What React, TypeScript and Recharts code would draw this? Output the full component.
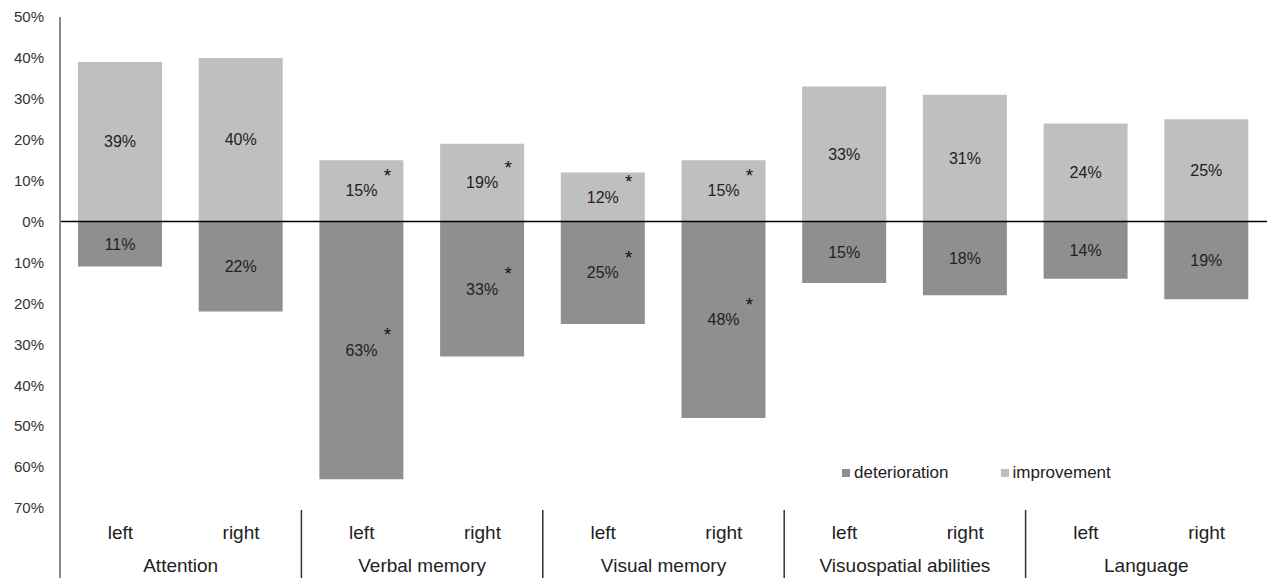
import React from 'react';
import { BarChart, Bar, XAxis, YAxis, ReferenceLine, Legend, LabelList } from 'recharts';

const sides = ['left', 'right', 'left', 'right', 'left', 'right', 'left', 'right', 'left', 'right'];
const domains = ['Attention', 'Verbal memory', 'Visual memory', 'Visuospatial abilities', 'Language'];
const improvement = [39, 40, 15, 19, 12, 15, 33, 31, 24, 25];
const deterioration = [11, 22, 63, 33, 25, 48, 15, 18, 14, 19];
const improvementSig = [false, false, true, true, true, true, false, false, false, false];
const deteriorationSig = [false, false, true, true, true, true, false, false, false, false];
const yTicks = [50, 40, 30, 20, 10, 0, -10, -20, -30, -40, -50, -60, -70];

const data = sides.map((side, i) => ({
    name: `${domains[Math.floor(i / 2)]} ${side}`,
    side,
    improvement: improvement[i],
    deterioration: -deterioration[i],
}));

const FONT = '"Liberation Sans", Arial, Helvetica, sans-serif';
const COLORS = {
    improvement: '#bfbfbf',
    deterioration: '#8f8f8f',
};

const makeLabel = (sig: boolean[]) => (props: any) => {
    const { x, y, width, height, value, index } = props;
    const cx = x + width / 2;
    const cy = y + height / 2;
    return (
        <g>
            <text x={cx} y={cy} textAnchor="middle" dominantBaseline="central" fontSize={16} fill="#222" fontFamily={FONT}>
                {`${Math.abs(value)}%`}
            </text>
            {sig[index] && (
                <text x={cx + 26} y={cy - 9} textAnchor="middle" fontSize={19} fill="#111" fontFamily={FONT}>
                    *
                </text>
            )}
        </g>
    );
};

const CategoryTick = (props: any) => {
    const { x, y, payload } = props;
    const index = payload.index;
    const half = payload.offset || 60.35;
    return (
        <g>
            <text x={x} y={y + 23} textAnchor="middle" fontSize={19} fill="#222" fontFamily={FONT}>
                {sides[index]}
            </text>
            {index % 2 === 0 && (
                <>
                    <line
                        x1={x - half}
                        x2={x - half}
                        y1={index === 0 ? y - 8 : y - 6}
                        y2={578}
                        stroke={index === 0 ? '#8a8a8a' : '#333'}
                        strokeWidth={index === 0 ? 2 : 1.5}
                    />
                    <text x={x + half} y={y + 56} textAnchor="middle" fontSize={19} fill="#222" fontFamily={FONT}>
                        {domains[index / 2]}
                    </text>
                </>
            )}
        </g>
    );
};

const LegendContent = () => (
    <div style={{ display: 'flex', fontFamily: FONT, fontSize: 17, color: '#222' }}>
        {(['deterioration', 'improvement'] as const).map((key) => (
            <div key={key} style={{ display: 'flex', alignItems: 'center', marginRight: 52 }}>
                <span style={{ width: 8, height: 8, background: COLORS[key], marginRight: 4, display: 'inline-block' }} />
                {key}
            </div>
        ))}
    </div>
);

export default function App() {
    return (
        <div style={{ position: 'absolute', left: 0, top: 0, width: 1267, height: 578, background: '#fff' }}>
            <BarChart
                width={1267}
                height={578}
                data={data}
                stackOffset="sign"
                margin={{ top: 17, right: 0, bottom: 0, left: 0 }}
                barSize={84}
            >
                <YAxis
                    type="number"
                    domain={[-70, 50]}
                    ticks={yTicks}
                    interval={0}
                    width={60}
                    tickLine={false}
                    tickMargin={10}
                    axisLine={{ stroke: '#8a8a8a', strokeWidth: 2 }}
                    tick={{ fontSize: 15, fill: '#333', fontFamily: FONT }}
                    tickFormatter={(v: number) => `${Math.abs(v)}%`}
                />
                <XAxis
                    dataKey="name"
                    height={70}
                    interval={0}
                    axisLine={false}
                    tickLine={false}
                    tick={<CategoryTick />}
                />
                <Bar dataKey="deterioration" stackId="a" fill={COLORS.deterioration} isAnimationActive={false}>
                    <LabelList dataKey="deterioration" content={makeLabel(deteriorationSig)} />
                </Bar>
                <Bar dataKey="improvement" stackId="a" fill={COLORS.improvement} isAnimationActive={false}>
                    <LabelList dataKey="improvement" content={makeLabel(improvementSig)} />
                </Bar>
                <ReferenceLine y={0} stroke="#000" strokeWidth={1.5} />
                <Legend
                    layout="vertical"
                    align="center"
                    verticalAlign="middle"
                    content={<LegendContent />}
                    wrapperStyle={{ left: 842, top: 463, width: 380 }}
                />
            </BarChart>
        </div>
    );
}
